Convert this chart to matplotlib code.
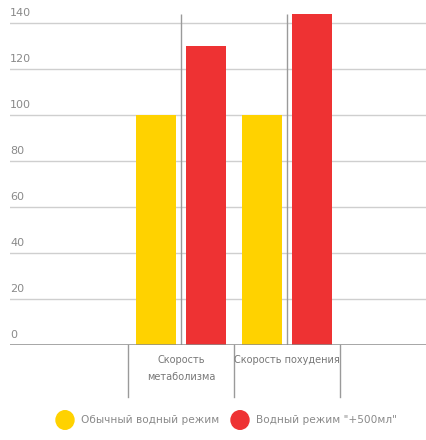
import numpy as np
import matplotlib
matplotlib.use("Agg")
import matplotlib.pyplot as plt
from matplotlib.transforms import blended_transform_factory

plt.rcParams['font.family'] = ['DejaVu Sans']

# данные
categories = ["Скорость\nметаболизма", "Скорость похудения"]
series_names = ["Обычный водный режим", 'Водный режим "+500мл"']
normal = [100, 100]
water = [130, 144]
yticks = [0, 20, 40, 60, 80, 100, 120, 140]

yellow = "#FFD200"
red = "#EE3233"
grey_txt = "#8a8a8a"

fig = plt.figure(figsize=(4.26, 4.40), dpi=100)
ax = fig.add_axes([10 / 426, 95 / 440, 416 / 426, 345 / 440])

x = np.arange(1, len(categories) + 1)
w = 0.377
off = 25 / 106
ax.bar(x - off, normal, w, color=yellow, zorder=3)
ax.bar(x + off, water, w, color=red, zorder=3)

# сетка
ytr = blended_transform_factory(ax.transAxes, ax.transData)
for t in yticks:
    if t > 0:
        ax.axhline(t, color="#cfcfcf", lw=1, zorder=1)
    ax.text(0, t + 2, str(t), transform=ytr, ha="left", va="bottom",
            fontsize=8, color=grey_txt)
ax.axhline(0, color="#8c8c8c", lw=1.8, zorder=4)
ax.vlines(x, 0, max(water), color="#9a9a9a", lw=1, zorder=2)

ax.set_xlim(1 - 171 / 106, 2 + 139 / 106)
ax.set_ylim(0, 150)
ax.axis("off")

# подписи категорий
tr = blended_transform_factory(ax.transData, fig.transFigure)
for b in np.arange(0.5, len(categories) + 1, 1.0):
    ax.plot([b, b], [95 / 440, 43 / 440], transform=tr, color="#9a9a9a", lw=1, clip_on=False)
for xi, c in zip(x, categories):
    fig.text(xi, 1 - 355 / 440, c, transform=tr, ha="center", va="top",
             fontsize=7, color="#777777", linespacing=1.9)

# легенда
ly = 1 - 420 / 440
fig.add_artist(plt.Circle((65 / 426, ly), 9 / 426, transform=fig.transFigure, color=yellow))
fig.text(81 / 426, ly, series_names[0], ha="left", va="center", fontsize=7.6, color=grey_txt)
fig.add_artist(plt.Circle((240 / 426, ly), 9 / 426, transform=fig.transFigure, color=red))
fig.text(256 / 426, ly, series_names[1], ha="left", va="center", fontsize=7.6, color=grey_txt)

fig.savefig("out.png", dpi=100)
